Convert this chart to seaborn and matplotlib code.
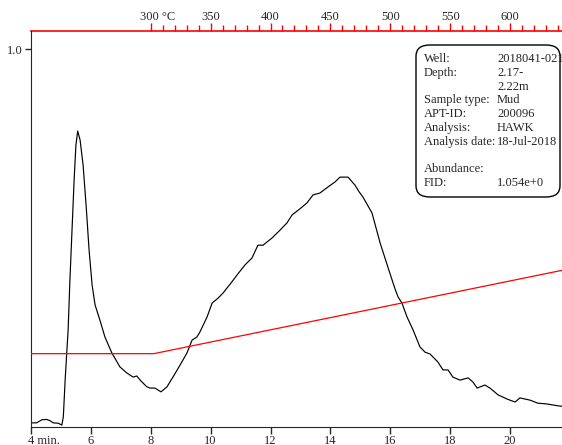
import numpy as np
import pandas as pd
import matplotlib.pyplot as plt
import matplotlib.transforms as mtransforms
import seaborn as sns
from matplotlib.patches import FancyBboxPatch
from matplotlib.ticker import FixedLocator

# FID signal (retention time in min, relative abundance)
time_min = [4.00, 4.19, 4.36, 4.52, 4.63, 4.74, 4.91, 5.03, 5.08, 5.14, 5.24, 5.30,
            5.37, 5.44, 5.50, 5.56, 5.64, 5.74, 5.84, 5.94, 6.04, 6.14, 6.30, 6.47,
            6.70, 6.97, 7.20, 7.41, 7.53, 7.67, 7.86, 7.97, 8.14, 8.34, 8.54, 8.74,
            8.98, 9.21, 9.38, 9.54, 9.64, 9.88, 10.05, 10.25, 10.41, 10.71, 10.88,
            11.15, 11.38, 11.58, 11.75, 12.05, 12.32, 12.55, 12.72, 12.98, 13.22,
            13.42, 13.65, 13.92, 14.15, 14.32, 14.59, 14.82, 14.96, 15.09, 15.39,
            15.66, 15.92, 16.16, 16.26, 16.39, 16.56, 16.76, 16.99, 17.16, 17.33,
            17.59, 17.76, 17.93, 18.09, 18.33, 18.60, 18.76, 18.90, 19.16, 19.33,
            19.60, 19.90, 20.17, 20.33, 20.67, 20.93, 21.23, 21.60, 21.73]
signal = [0.011, 0.011, 0.019, 0.020, 0.017, 0.011, 0.010, 0.005, 0.027, 0.124,
          0.257, 0.389, 0.521, 0.653, 0.746, 0.783, 0.759, 0.693, 0.587, 0.468,
          0.376, 0.323, 0.283, 0.238, 0.196, 0.159, 0.143, 0.132, 0.135, 0.122,
          0.107, 0.103, 0.103, 0.093, 0.106, 0.132, 0.164, 0.196, 0.230, 0.238,
          0.251, 0.291, 0.328, 0.341, 0.354, 0.384, 0.402, 0.429, 0.447, 0.481,
          0.481, 0.500, 0.521, 0.540, 0.561, 0.577, 0.593, 0.614, 0.619, 0.635,
          0.648, 0.661, 0.661, 0.640, 0.622, 0.608, 0.566, 0.487, 0.423, 0.365,
          0.344, 0.328, 0.291, 0.257, 0.212, 0.198, 0.193, 0.172, 0.151, 0.151,
          0.132, 0.124, 0.130, 0.119, 0.103, 0.111, 0.103, 0.085, 0.074, 0.066,
          0.077, 0.071, 0.063, 0.061, 0.056, 0.055]

# oven temperature program
temp_time = [4.0, 8.1, 21.8]
temp_c = [300, 300, 642.5]

info_labels = ["Well:", "Depth:", "", "Sample type:", "APT-ID:", "Analysis:",
               "Analysis date:", "", "Abundance:", "FID:"]
info_values = ["2018041-021", "2.17-", "2.22m", "Mud", "200096", "HAWK",
               "18-Jul-2018", "", "", "1.054e+0"]

sns.set_style("ticks")
plt.rcParams["font.family"] = ["Liberation Serif", "DejaVu Serif"]
plt.rcParams["font.size"] = 9

W, H = 562, 445
fig = plt.figure(figsize=(W / 100, H / 100), dpi=100)
ax = fig.add_axes([31 / W, 18 / H, 1 - 31 / W, 396 / H])

fid = pd.DataFrame({"t": time_min, "s": signal})
sns.lineplot(data=fid, x="t", y="s", ax=ax, color="black", lw=0.85, estimator=None)
ax.set_xlim(4, 4 + 531 / 29.94)
ax.set_ylim(0, 396 / 378)

# temperature on its own hidden y scale
tw = ax.twinx()
prog = pd.DataFrame({"t": temp_time, "T": temp_c})
sns.lineplot(data=prog, x="t", y="T", ax=tw, color="red", lw=0.9, estimator=None)
tw.set_ylim(0, 1620)
tw.axis("off")

for sp in ["top", "right"]:
    ax.spines[sp].set_visible(False)
ax.set_xlabel("")
ax.set_ylabel("")

xt = list(range(4, 21, 2))
ax.set_xticks(xt)
ax.set_xticklabels(["4 min."] + [str(v) for v in xt[1:]])
ax.set_yticks([1.0])
ax.set_yticklabels(["1.0"])
ax.tick_params(axis="x", length=5, width=1, pad=1, labelsize=9)
ax.tick_params(axis="y", length=4, width=1, pad=2, labelsize=9)

# temperature scale along the top
sec = ax.secondary_xaxis("top", functions=(lambda t: 300 + (t - 8) * 25,
                                            lambda T: 8 + (T - 300) / 25))
majors = list(range(300, 601, 50))
sec.set_xticks(majors)
sec.set_xticklabels(["300 °C"] + [str(v) for v in majors[1:]])
sec.xaxis.set_minor_locator(FixedLocator([v for v in range(310, 645, 10) if v % 50]))
sec.spines["top"].set_color("red")
sec.spines["top"].set_linewidth(1.2)
sec.tick_params(axis="x", which="major", color="red", length=6, width=1, pad=0, labelsize=9)
sec.tick_params(axis="x", which="minor", color="red", length=4, width=1)

# first labels: keep the number centred on its tick, unit trailing
fig.canvas.draw()
for lab, shift in [(ax.get_xticklabels()[0], 2.5), (sec.get_xticklabels()[0], 10.5)]:
    lab.set_horizontalalignment("left")
    lab.set_transform(lab.get_transform() +
                      mtransforms.ScaledTranslation(-shift / 100, 0, fig.dpi_scale_trans))

# info box
box = FancyBboxPatch((416 / W, 1 - 197 / H), 144 / W, 152 / H,
                     boxstyle="round,pad=0,rounding_size=0.025",
                     transform=fig.transFigure, fc="white", ec="black", lw=1)
fig.patches.append(box)
for i, (lab, val) in enumerate(zip(info_labels, info_values)):
    y = 1 - (59 + i * 13.8) / H
    fig.text(424 / W, y, lab, va="center", ha="left", fontsize=9)
    fig.text(497 / W, y, val, va="center", ha="left", fontsize=9)

fig.savefig("out.png", dpi=100)
